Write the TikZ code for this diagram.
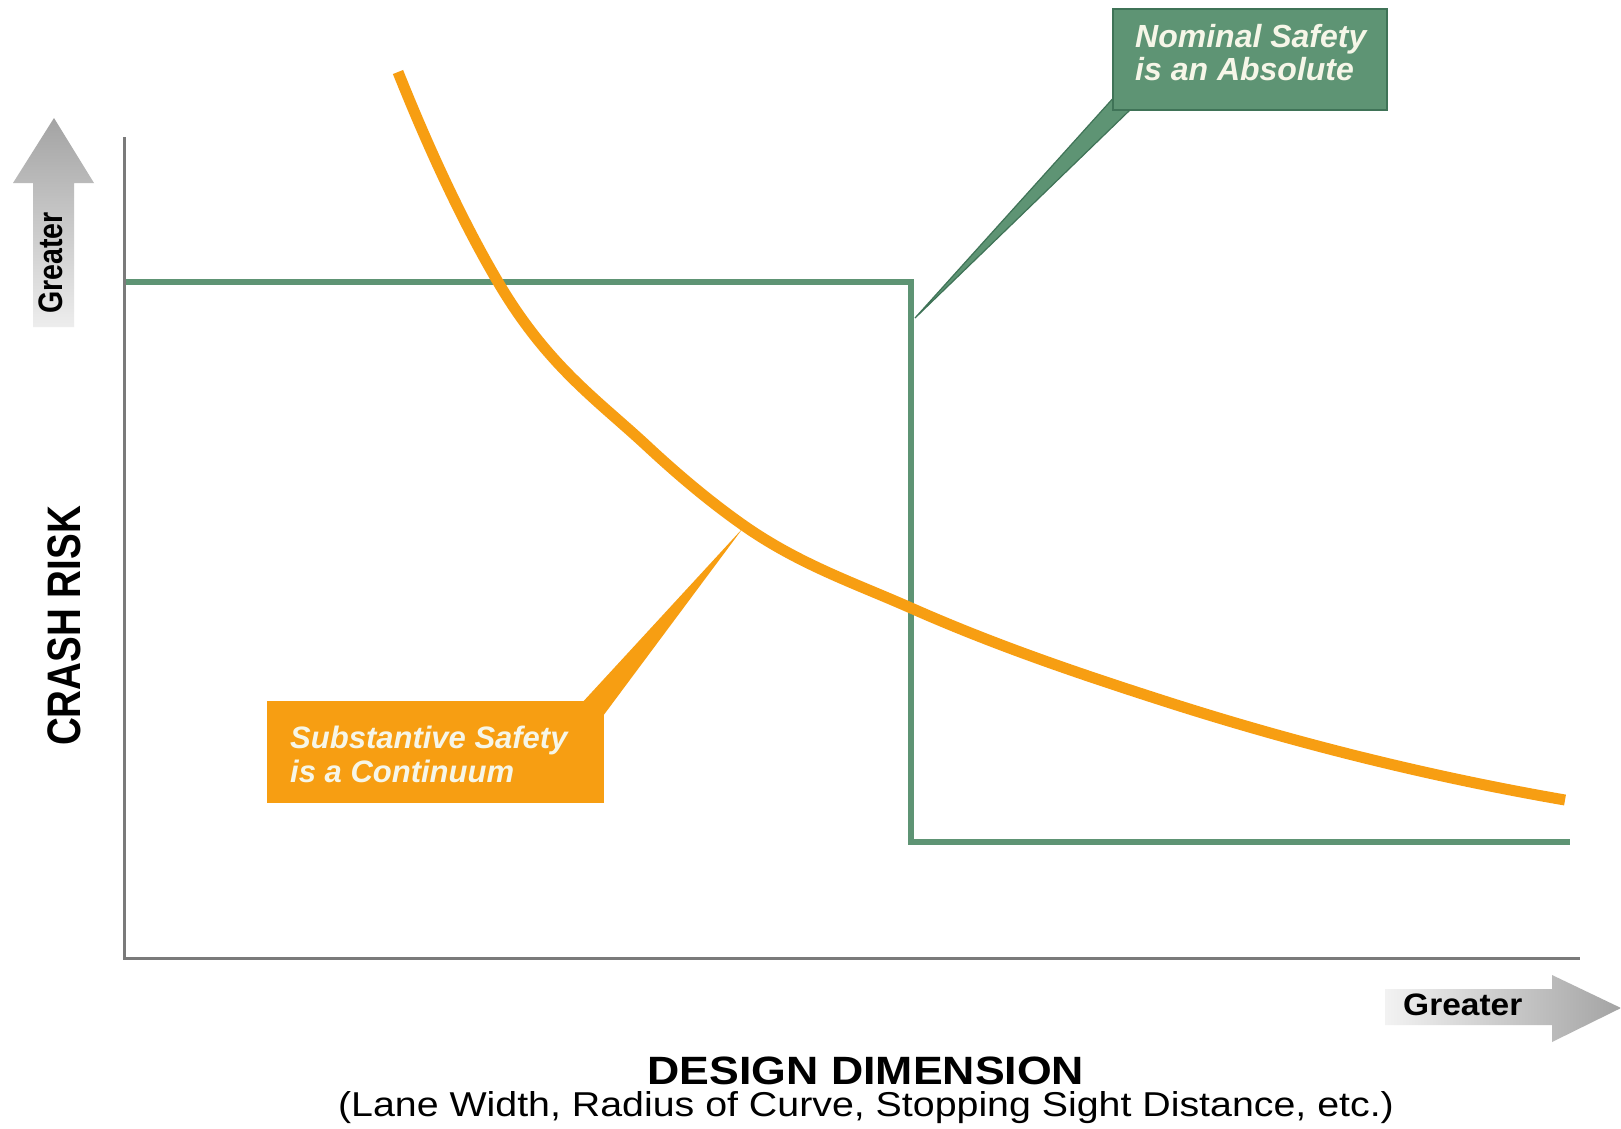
\documentclass[tikz,border=0pt]{standalone}
\usepackage{graphicx}
\usepackage{fontspec}
\setmainfont{Liberation Sans}
\definecolor{nomgreen}{HTML}{5E9474}
\definecolor{nomgreendark}{HTML}{3F7357}
\definecolor{subor}{HTML}{F79E12}
\definecolor{axisgray}{HTML}{7A7A7A}
\definecolor{calltext}{HTML}{F6F6E8}
\begin{document}
\begin{tikzpicture}[x=1pt,y=-1pt,
  axisline/.style={draw=axisgray, line width=3pt},
  stepline/.style={draw=nomgreen, line width=5.5pt, line join=miter},
  curveline/.style={draw=subor, line width=11pt},
  calltxt/.style={text=calltext, font=\fontsize{32}{34}\selectfont\bfseries\itshape, anchor=base west, inner sep=0pt},
  lbl/.style={inner sep=0pt, text=black},
  gbox/.style={draw=nomgreendark, line width=1.2pt, fill=nomgreen, minimum width=274pt, minimum height=101pt, inner sep=0pt},
  obox/.style={fill=subor, minimum width=337pt, minimum height=102pt, inner sep=0pt}
]
\useasboundingbox[fill=white] (0,0) rectangle (1621,1128);

% coordinates
\coordinate (ytop) at (124,137);
\coordinate (orig) at (124,958);
\coordinate (xend) at (1580,958);
\coordinate (s0) at (124,282);
\coordinate (s1) at (911,282);
\coordinate (s2) at (911,842);
\coordinate (s3) at (1570,842);

% green step line
\draw[stepline] (s0) -- (s1) -- (s2) -- (s3);

% axes
\draw[axisline] (ytop) -- (orig) -- (xend);

% gray arrows
\shade[top color=black!36, bottom color=black!7]
  (33,327) -- (33,183) -- (13,183) -- (54,118) -- (94,183) -- (74,183) -- (74,327) -- cycle;
\shade[left color=black!5, right color=black!36]
  (1385,989) -- (1552,989) -- (1552,975) -- (1621,1008) -- (1552,1042) -- (1552,1025) -- (1385,1025) -- cycle;

% green callout
\coordinate (gtip) at (915,318);
\coordinate (gp1) at (1116,95);
\coordinate (gp2) at (1131,109);
\fill[nomgreen] (gp1) -- (gtip) -- (gp2) -- cycle;
\draw[nomgreendark, line width=1.2pt] (gp1) -- (gtip) -- (gp2);
\node[gbox] (gb) at (1250,59.5) {};
\fill[nomgreen] (1114.5,96) rectangle (1131,108.5);

% orange curve
\coordinate (c0) at (398,72);
\coordinate (c1) at (498,282);
\coordinate (c2) at (647,446);
\coordinate (c3) at (743,525);
\coordinate (c4) at (911,608);
\coordinate (c5) at (1161,700);
\coordinate (c6) at (1565,800);
\draw[curveline] (c0) .. controls (431.33,155.3) and (464.67,225.4) .. (c1)
  .. controls (547.67,366.3) and (597.33,399.8) .. (c2)
  .. controls (679,475.8) and (711,502.5) .. (c3)
  .. controls (799,564.4) and (855,583.2) .. (c4)
  .. controls (994.33,644.9) and (1077.67,673.2) .. (c5)
  .. controls (1295.67,743.4) and (1430.33,776.7) .. (c6);

% orange callout
\coordinate (otip) at (743,528);
\coordinate (op1) at (580,705);
\coordinate (op2) at (600,720);
\fill[subor] (op1) -- (otip) -- (op2) -- cycle;
\node[obox] (ob) at (435.5,752) {};

% callout texts
\node[calltxt] (g1) at (1135,47) {Nominal Safety};
\node[calltxt] (g2) at (1135,80) {is an Absolute};
\node[calltxt, font=\fontsize{31}{34}\selectfont\bfseries\itshape] (o1) at (290,748) {Substantive Safety};
\node[calltxt, font=\fontsize{31}{34}\selectfont\bfseries\itshape] (o2) at (290,782) {is a Continuum};

% axis labels
\node[lbl, rotate=90, anchor=base, font=\fontsize{34}{34}\selectfont\bfseries] (gup) at (62,263) {\scalebox{0.84}[1]{Greater}};
\node[lbl, rotate=90, anchor=base, font=\fontsize{47}{47}\selectfont\bfseries] (crash) at (80,626) {\scalebox{0.82}[1]{CRASH RISK}};
\node[lbl, anchor=base west, font=\fontsize{31}{31}\selectfont\bfseries] (gright) at (1403,1015) {\scalebox{1.08}[1]{Greater}};
\node[lbl, anchor=base, font=\fontsize{39.5}{40}\selectfont\bfseries] (dd) at (866,1084) {\scalebox{1.13}[1]{DESIGN DIMENSION}};
\node[lbl, anchor=base, font=\fontsize{34.5}{36}\selectfont] (dd2) at (866,1116) {\scalebox{1.14}[1]{(Lane Width, Radius of Curve, Stopping Sight Distance, etc.)}};
\end{tikzpicture}
\end{document}
